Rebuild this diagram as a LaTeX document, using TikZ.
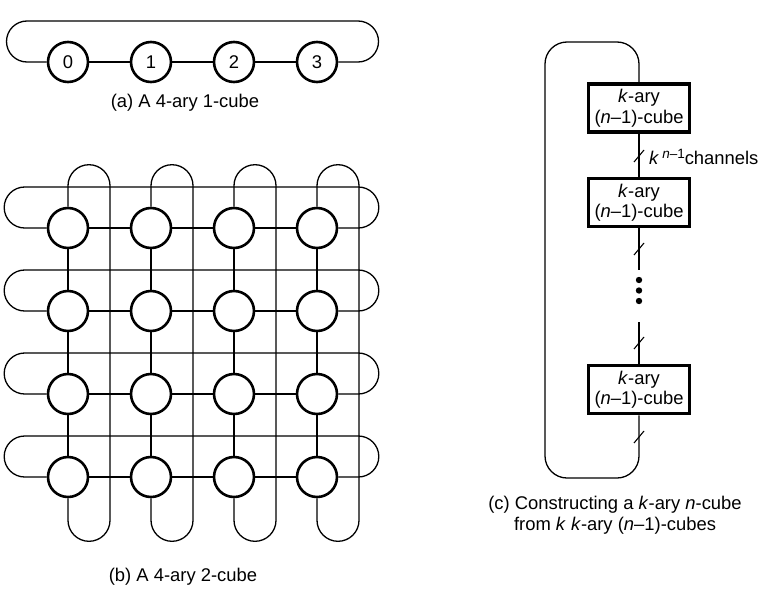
\documentclass[tikz,border=0pt]{standalone}
\usepackage{fontspec}
\setmainfont{Liberation Sans}
\begin{document}
\begin{tikzpicture}[x=1pt,y=1pt,
  every node/.style={font=\fontsize{18.4}{20.5}\selectfont},
  cnode/.style={circle,draw,line width=2.6pt,minimum size=40pt,inner sep=0pt},
  cubebox/.style={draw,line width=3.6pt,minimum width=101pt,minimum height=48pt,inner sep=0pt,align=center},
  wire/.style={line width=1.3pt},
  slashmark/.style={line width=1.1pt},
  caption/.style={align=center,inner sep=0pt}]
\path[use as bounding box] (0,0) rectangle (767,-602);

% ---------- (a) ----------
\foreach \i/\x in {0/68,1/151,2/234,3/317}
  \node[cnode] (a\i) at (\x,-62) {\i};
\draw[wire] (a0) -- (a1) (a1) -- (a2) (a2) -- (a3);
\draw[wire] (a0.west) -- (27,-62) arc (270:90:20.5) -- (358,-21) arc (90:-90:20.5) -- (a3.east);
\node[caption] (capa) at (185,-103) {(a) A 4-ary 1-cube};

% ---------- (b) ----------
\foreach \r/\y in {1/228,2/311,3/394,4/477}
  \foreach \c/\x in {1/68,2/151,3/234,4/317}
    \node[cnode] (b\r\c) at (\x,-\y) {};
\foreach \r in {1,2,3,4}{
  \draw[wire] (b\r1) -- (b\r2) (b\r2) -- (b\r3) (b\r3) -- (b\r4);
  \draw[wire] (b\r1.west) -- ([xshift=-22pt]b\r1.west) arc (270:90:20.5)
     -- ([xshift=20pt,yshift=41pt]b\r4.east) arc (90:-90:20.5) -- (b\r4.east);
}
\foreach \c in {1,2,3,4}{
  \draw[wire] (b1\c) -- (b2\c) (b2\c) -- (b3\c) (b3\c) -- (b4\c);
  \draw[wire] (b1\c.north) -- ([yshift=21pt]b1\c.north) arc (180:0:21)
     -- ([xshift=42pt,yshift=-22pt]b4\c.south) arc (0:-180:21) -- (b4\c.south);
}
\node[caption] (capb) at (183,-577) {(b) A 4-ary 2-cube};

% ---------- (c) ----------
\node[cubebox] (c1) at (639,-108) {\textit{k}-ary\\(\textit{n}–1)-cube};
\node[cubebox] (c2) at (639,-202.5) {\textit{k}-ary\\(\textit{n}–1)-cube};
\node[cubebox] (c3) at (639,-389.5) {\textit{k}-ary\\(\textit{n}–1)-cube};
\coordinate (d1) at (639,-270);
\coordinate (d2) at (639,-322);
\draw[wire] (c1) -- (c2);
\draw[wire] (c2) -- (d1);
\draw[wire] (d2) -- (c3);
\draw[wire,rounded corners=22pt] (c3.south) -- (639,-478) -- (545,-478) -- (545,-42) -- (639,-42) -- (c1.north);
\foreach \y in {156,249,343,437}
  \draw[slashmark] (634,-\y-6) -- (644,-\y+6);
\foreach \y in {280,290.5,301}
  \fill (639,-\y) circle (3.2pt);
\node[anchor=west,inner sep=0pt] (chan) at (649,-157) {\textit{k}\,\raisebox{6.5pt}{\fontsize{13.5}{14}\selectfont\textit{n}–1}channels};
\node[caption] (capc) at (615,-515) {(c) Constructing a \textit{k}-ary \textit{n}-cube\\from \textit{k} \textit{k}-ary (\textit{n}–1)-cubes};
\end{tikzpicture}
\end{document}
